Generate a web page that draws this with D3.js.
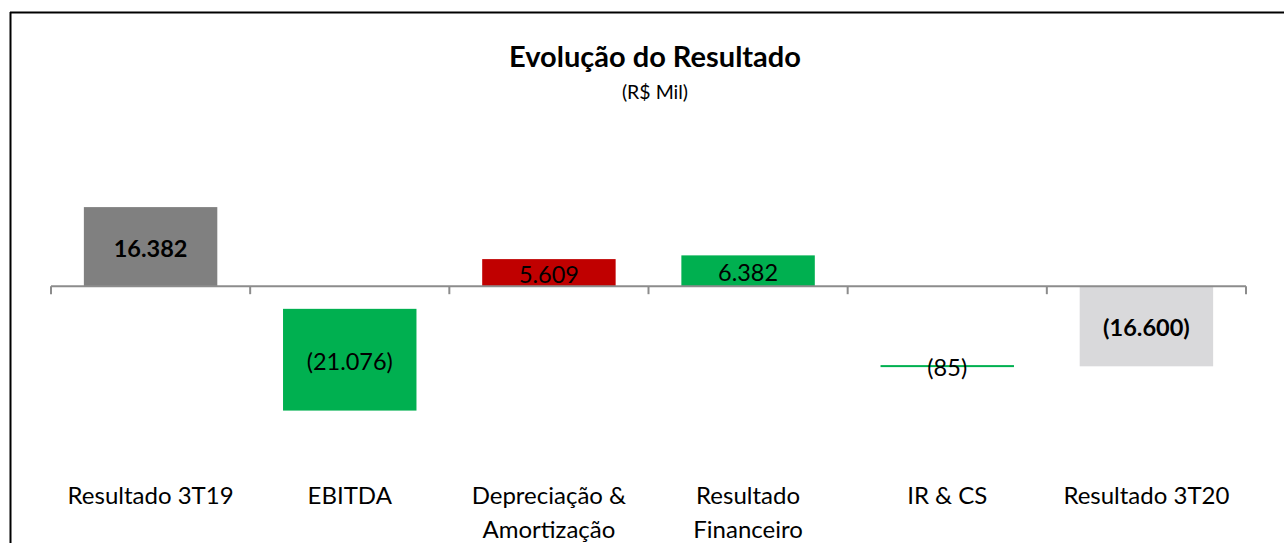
<!DOCTYPE html>
<html>
<head>
<meta charset="utf-8">
<script src="https://cdn.jsdelivr.net/npm/d3@7/dist/d3.min.js"></script>
<style>
  html, body { margin: 0; padding: 0; background: #ffffff; }
  svg { display: block; }
</style>
</head>
<body>
<svg id="chart" width="1284" height="543"></svg>
<script>
// ---- Data ----
const categories = ["Resultado 3T19", "EBITDA", "Depreciação & Amortização", "Resultado Financeiro", "IR & CS", "Resultado 3T20"];
const values = [16382, -21076, 5609, 6382, -85, -16600];
// where each floating bar starts (as drawn in the reference)
const barBase = [0, -4694, 0, 0, -16515, 0];
const valueLabels = ["16.382", "(21.076)", "5.609", "6.382", "(85)", "(16.600)"];
const boldLabel = [true, false, false, false, false, true];
const barColors = ["#808080", "#00B050", "#C00000", "#00B050", "#00B050", "#D9D9DB"];
const title = "Evolução do Resultado";
const subtitle = "(R$ Mil)";

const FONT = "Lato, 'Open Sans', 'Noto Sans', sans-serif";
const svg = d3.select("#chart");

// chart frame (top and left border)
svg.append("line").attr("x1", 10).attr("x2", 1284).attr("y1", 12.5).attr("y2", 12.5)
  .attr("stroke", "#000").attr("stroke-width", 2);
svg.append("line").attr("x1", 10.5).attr("x2", 10.5).attr("y1", 12).attr("y2", 543)
  .attr("stroke", "#000").attr("stroke-width", 2);

// title
svg.append("text").attr("x", 655).attr("y", 67).attr("text-anchor", "middle")
  .attr("font-family", FONT).attr("font-weight", "bold").attr("font-size", 29)
  .attr("fill", "#000").text(title);
svg.append("text").attr("x", 655).attr("y", 99).attr("text-anchor", "middle")
  .attr("font-family", FONT).attr("font-size", 19.5)
  .attr("fill", "#000").text(subtitle);

// scales
const x = d3.scaleBand().domain(categories).range([51, 1246]).paddingInner(0.33).paddingOuter(0.165);
const y = d3.scaleLinear().domain([-30000, 25000]).range([431, 165.5]);

// bars
const data = categories.map((c, i) => ({
  c, v: values[i], b: barBase[i], e: barBase[i] + values[i],
  label: valueLabels[i], bold: boldLabel[i], color: barColors[i]
}));

const minH = 2;
svg.append("g").selectAll("rect").data(data).join("rect")
  .attr("x", d => x(d.c))
  .attr("width", x.bandwidth())
  .attr("y", d => {
    const top = y(Math.max(d.b, d.e)), bot = y(Math.min(d.b, d.e));
    const h = bot - top;
    return h < minH ? (top + bot) / 2 - minH / 2 : top;
  })
  .attr("height", d => Math.max(minH, y(Math.min(d.b, d.e)) - y(Math.max(d.b, d.e))))
  .attr("fill", d => d.color);

// axis line with ticks at category boundaries
const axisY = y(0);
const step = x.step();
const left = x.range()[0];
const ax = svg.append("g");
ax.append("line").attr("x1", left).attr("x2", x.range()[1]).attr("y1", axisY).attr("y2", axisY)
  .attr("stroke", "#8c8c8c").attr("stroke-width", 2);
ax.selectAll("line.tick").data(d3.range(categories.length + 1)).join("line")
  .attr("class", "tick")
  .attr("x1", i => left + i * step).attr("x2", i => left + i * step)
  .attr("y1", axisY).attr("y2", axisY + 8)
  .attr("stroke", "#8c8c8c").attr("stroke-width", 2);

// value labels
svg.append("g").selectAll("text").data(data).join("text")
  .attr("x", d => x(d.c) + x.bandwidth() / 2)
  .attr("y", d => (y(d.b) + y(d.e)) / 2 + 1.5)
  .attr("dy", "0.36em")
  .attr("text-anchor", "middle")
  .attr("font-family", FONT)
  .attr("font-size", 23.5)
  .attr("font-weight", d => d.bold ? "bold" : "normal")
  .attr("fill", "#000")
  .text(d => d.label);

// category labels (wrapped)
const catG = svg.append("g");
const maxW = step * 0.95;
categories.forEach(c => {
  const t = catG.append("text")
    .attr("x", x(c) + x.bandwidth() / 2)
    .attr("y", 504)
    .attr("text-anchor", "middle")
    .attr("font-family", FONT)
    .attr("font-size", 24)
    .attr("fill", "#000");
  const words = c.split(" ");
  let line = [];
  let tspan = t.append("tspan").attr("x", x(c) + x.bandwidth() / 2).attr("dy", 0);
  words.forEach(w => {
    line.push(w);
    tspan.text(line.join(" "));
    if (tspan.node().getComputedTextLength() > maxW && line.length > 1) {
      line.pop();
      tspan.text(line.join(" "));
      line = [w];
      tspan = t.append("tspan").attr("x", x(c) + x.bandwidth() / 2).attr("dy", 34).text(w);
    }
  });
});
</script>
</body>
</html>
